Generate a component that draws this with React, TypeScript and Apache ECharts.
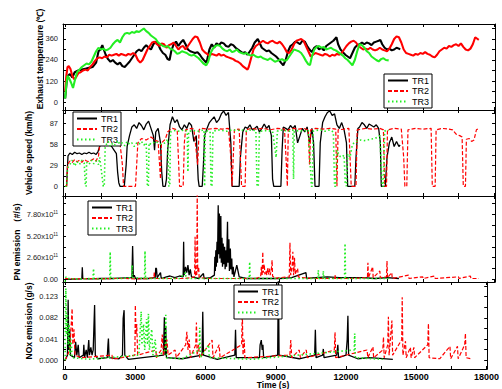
import React, { useEffect, useRef } from "react";
import * as echarts from "echarts";

// ---------- data ----------
const seriesNames = ["TR1", "TR2", "TR3"];
const xTickLabels = [0, 3000, 6000, 9000, 12000, 15000, 18000];
const tempTicks = [0, 120, 240, 360];
const speedTicks = [0, 29, 58, 87];
const pnTicks = [0, 2.6, 5.2, 7.8]; // x10^11 #/s
const noxTicks = [0, 0.041, 0.082, 0.123];

// Exhaust temperature (°C) [time s, value]
const tempTR1: [number, number][] = [[0,20],[60,110],[120,150],[200,160],[300,140],[400,170],[550,180],[700,185],[850,190],[1000,195],[1150,200],[1300,225],[1400,290],[1480,300],[1560,325],[1620,300],[1700,270],[1800,245],[1900,230],[2000,240],[2100,225],[2200,215],[2300,225],[2400,205],[2500,200],[2600,215],[2700,230],[2800,250],[2900,270],[3000,290],[3100,300],[3200,290],[3300,310],[3400,325],[3500,310],[3600,300],[3700,330],[3800,345],[3900,330],[4000,300],[4100,280],[4200,270],[4300,245],[4380,240],[4450,290],[4550,330],[4650,345],[4750,320],[4850,340],[4950,355],[5050,330],[5150,300],[5250,290],[5350,285],[5450,280],[5550,285],[5650,270],[5750,250],[5850,235],[5930,225],[6050,300],[6150,330],[6250,310],[6350,335],[6450,325],[6550,340],[6650,335],[6750,320],[6850,315],[6950,330],[7050,325],[7150,310],[7250,300],[7350,290],[7450,280],[7550,285],[7650,270],[7750,290],[7850,310],[7950,340],[8080,360],[8150,340],[8250,310],[8350,300],[8450,290],[8550,295],[8650,280],[8750,270],[8850,260],[8950,245],[9050,225],[9150,210],[9250,240],[9350,290],[9450,320],[9550,330],[9650,345],[9750,340],[9850,330],[9950,350],[10050,345],[10150,320],[10250,300],[10350,285],[10450,310],[10550,320],[10650,300],[10750,310],[10850,295],[10950,320],[11050,330],[11150,340],[11250,350],[11380,370],[11450,330],[11550,300],[11650,285],[11750,270],[11850,260],[11950,250],[12050,280],[12150,310],[12250,325],[12350,330],[12450,340],[12550,330],[12650,340],[12750,335],[12850,325],[12950,340],[13050,345],[13150,350],[13220,355],[13300,330],[13400,310],[13500,300],[13600,305],[13700,295],[13800,300],[13900,310],[14000,305],[14050,300]];
const tempTR2: [number, number][] = [[0,60],[50,150],[100,200],[150,205],[220,190],[300,150],[380,130],[450,140],[550,165],[650,170],[750,180],[850,185],[950,180],[1050,200],[1150,215],[1250,235],[1350,250],[1450,255],[1550,250],[1650,260],[1750,255],[1850,270],[1950,265],[2050,270],[2150,275],[2250,265],[2350,275],[2450,270],[2550,265],[2650,275],[2750,270],[2850,280],[2950,270],[3050,240],[3150,225],[3250,240],[3350,270],[3450,300],[3550,320],[3650,340],[3750,345],[3850,330],[3950,320],[4050,335],[4150,330],[4250,310],[4350,325],[4450,330],[4550,340],[4650,320],[4750,300],[4850,315],[4950,320],[5050,300],[5150,320],[5250,340],[5350,360],[5450,375],[5550,370],[5650,340],[5750,300],[5850,285],[5950,275],[6050,265],[6150,275],[6250,270],[6350,265],[6450,275],[6550,265],[6650,270],[6750,260],[6850,255],[6950,250],[7050,245],[7150,235],[7250,230],[7350,220],[7450,205],[7550,195],[7650,185],[7700,200],[7800,250],[7900,300],[8000,320],[8100,330],[8200,340],[8300,350],[8400,340],[8500,335],[8600,345],[8700,350],[8800,340],[8900,335],[9000,345],[9100,330],[9200,310],[9300,285],[9400,280],[9500,300],[9600,330],[9700,350],[9800,355],[9900,360],[10000,350],[10100,320],[10200,290],[10300,260],[10400,270],[10500,280],[10600,275],[10700,270],[10800,265],[10900,275],[11000,270],[11100,260],[11200,270],[11300,265],[11400,275],[11500,270],[11600,280],[11700,300],[11800,320],[11900,335],[12000,345],[12100,350],[12200,340],[12300,320],[12400,310],[12500,300],[12600,305],[12700,300],[12800,310],[12900,300],[13000,295],[13100,300],[13200,310],[13300,300],[13400,295],[13500,290],[13600,305],[13700,330],[13800,360],[13900,375],[14000,370],[14100,340],[14200,300],[14300,280],[14400,275],[14500,270],[14600,265],[14700,275],[14800,270],[14900,280],[15000,275],[15100,285],[15200,275],[15300,270],[15400,260],[15500,255],[15600,270],[15700,290],[15800,300],[15900,310],[16000,305],[16100,320],[16200,315],[16300,325],[16400,330],[16500,320],[16600,335],[16700,315],[16800,300],[16900,295],[17000,305],[17100,330],[17200,370],[17300,360],[17350,355]];
const tempTR3: [number, number][] = [[0,20],[50,100],[100,150],[150,140],[250,110],[330,80],[400,120],[500,170],[600,185],[700,200],[800,210],[900,220],[1000,215],[1100,230],[1200,260],[1300,290],[1400,310],[1500,300],[1600,305],[1700,295],[1800,300],[1900,310],[2000,330],[2100,345],[2200,355],[2300,340],[2400,370],[2500,390],[2600,395],[2700,390],[2800,400],[2900,395],[3000,405],[3100,400],[3200,410],[3300,420],[3400,405],[3500,395],[3600,380],[3700,370],[3800,360],[3900,340],[4000,330],[4100,320],[4200,315],[4300,320],[4400,305],[4500,300],[4600,290],[4700,275],[4800,280],[4900,290],[5000,285],[5100,280],[5200,270],[5300,265],[5400,270],[5500,260],[5600,250],[5700,235],[5800,220],[5920,210],[6000,230],[6100,280],[6200,305],[6300,320],[6400,325],[6500,320],[6600,305],[6700,295],[6800,290],[6900,300],[7000,285],[7100,290],[7200,300],[7300,285],[7400,280],[7500,275],[7600,280],[7700,270],[7800,265],[7900,270],[8000,260],[8100,255],[8200,260],[8300,250],[8400,245],[8500,240],[8600,250],[8700,240],[8800,230],[8900,235],[9000,240],[9100,245],[9200,235],[9300,240],[9400,260],[9500,280],[9600,300],[9700,295],[9800,290],[9900,280],[10000,260],[10100,235],[10200,215],[10270,211],[10350,260],[10450,300],[10550,315],[10650,320],[10750,310],[10850,315],[10950,300],[11050,305],[11150,310],[11250,300],[11350,295],[11450,285],[11550,275],[11650,265],[11750,250],[11850,240],[11950,225],[12050,210],[12150,240],[12250,290],[12350,330],[12450,325],[12550,310],[12650,290],[12750,280],[12850,260],[12950,250],[13050,240],[13150,232],[13250,245],[13350,250],[13450,240],[13570,238]];

// Vehicle speed (km/h)
const speedTR1: [number, number][] = [[0,0],[60,0],[120,42],[200,46],[300,44],[400,47],[500,45],[600,46],[700,44],[800,46],[900,45],[1000,47],[1100,45],[1200,46],[1300,44],[1380,48],[1450,55],[1550,60],[1650,56],[1750,60],[1850,58],[1950,55],[2050,50],[2150,45],[2200,20],[2250,5],[2300,0],[2400,0],[2480,0],[2520,15],[2560,30],[2600,55],[2700,70],[2800,82],[2900,85],[3000,80],[3100,88],[3200,84],[3300,78],[3400,86],[3500,90],[3600,80],[3700,70],[3750,50],[3800,75],[3900,80],[4000,60],[4050,20],[4100,0],[4200,0],[4250,10],[4300,50],[4400,85],[4500,96],[4600,88],[4700,92],[4800,82],[4900,78],[5000,85],[5100,80],[5200,88],[5300,84],[5400,62],[5500,70],[5580,10],[5620,0],[5750,0],[5800,30],[5850,70],[5950,80],[6050,88],[6150,92],[6250,96],[6350,88],[6450,92],[6550,100],[6650,104],[6750,98],[6850,102],[6950,60],[7000,0],[7300,0],[7350,40],[7450,75],[7550,82],[7650,80],[7750,85],[7850,78],[7950,80],[8050,83],[8150,75],[8250,80],[8350,86],[8450,80],[8550,84],[8650,70],[8700,10],[8750,0],[9050,0],[9100,50],[9150,82],[9250,80],[9350,78],[9450,84],[9550,80],[9650,84],[9750,60],[9850,70],[9950,80],[10050,75],[10150,82],[10250,60],[10350,80],[10420,60],[10480,0],[10650,0],[10700,60],[10800,88],[10900,96],[11000,102],[11100,104],[11200,98],[11300,100],[11400,85],[11500,80],[11600,88],[11700,78],[11800,60],[11850,0],[12150,0],[12200,40],[12280,80],[12350,82],[12450,88],[12550,85],[12650,80],[12750,86],[12850,84],[12950,82],[13050,85],[13150,80],[13220,60],[13260,0],[13430,0],[13500,40],[13600,60],[13700,68],[13800,55],[13900,62],[14000,55],[14050,57]];
const speedTR2: [number, number][] = [[0,0],[60,0],[100,30],[200,35],[300,33],[400,37],[500,34],[600,36],[700,33],[800,37],[900,35],[1000,34],[1100,36],[1200,38],[1300,35],[1400,42],[1450,58],[1600,62],[1700,64],[1800,60],[1900,66],[2000,61],[2100,64],[2200,62],[2300,60],[2400,30],[2450,0],[2950,0],[3000,30],[3050,60],[3200,66],[3400,64],[3600,68],[3800,63],[3900,62],[3960,30],[4000,10],[4040,60],[4200,65],[4300,75],[4400,78],[4500,80],[4600,79],[4700,78],[4750,40],[4800,0],[4950,0],[5000,60],[5050,78],[5300,80],[5400,79],[5560,30],[5620,78],[5700,80],[6000,79],[6300,80],[6600,79],[6850,80],[6950,40],[7000,0],[7100,78],[7300,79],[7350,40],[7400,0],[7550,0],[7600,78],[7800,80],[8000,79],[8300,80],[8600,78],[8900,80],[9200,79],[9280,30],[9320,0],[9360,78],[9600,80],[9800,79],[10000,80],[10200,78],[10250,30],[10300,78],[10500,80],[10800,79],[11100,80],[11350,79],[11400,0],[11450,78],[11700,79],[11900,80],[11950,40],[12000,0],[12200,0],[12250,78],[12600,80],[12900,79],[13200,80],[13350,78],[13400,0],[13480,0],[13520,78],[13800,80],[14100,79],[14200,40],[14250,0],[14330,0],[14380,78],[14700,80],[15000,79],[15350,80],[15400,0],[15520,0],[15560,78],[15800,80],[16100,79],[16250,78],[16400,72],[16550,70],[16650,68],[16700,0],[16790,0],[16830,65],[16950,66],[17050,62],[17150,64],[17250,78],[17350,80]];
const speedTR3: [number, number][] = [[0,0],[60,0],[100,25],[200,30],[300,36],[400,28],[500,34],[600,30],[700,36],[800,32],[850,0],[880,0],[900,33],[1000,30],[1100,36],[1200,31],[1300,35],[1400,30],[1450,40],[1600,0],[1640,0],[1680,55],[1800,62],[1900,55],[2000,60],[2100,57],[2200,63],[2300,58],[2400,60],[2500,56],[2600,62],[2700,58],[2800,60],[2900,55],[3000,60],[3100,58],[3200,62],[3300,57],[3400,60],[3450,0],[3490,0],[3520,60],[3600,58],[3800,62],[4000,58],[4200,60],[4300,65],[4350,0],[4390,0],[4420,75],[4600,77],[4800,76],[5000,78],[5120,76],[5150,20],[5180,76],[5400,77],[5600,76],[5820,78],[5850,0],[5880,77],[6080,76],[6120,0],[6160,0],[6200,76],[6400,78],[6600,77],[6800,76],[7000,78],[7200,77],[7400,78],[7600,76],[7800,78],[8000,77],[8050,0],[8100,0],[8150,76],[8400,77],[8700,76],[8850,40],[8900,76],[9000,78],[9200,77],[9400,76],[9550,78],[9580,10],[9610,76],[9800,77],[10000,76],[10200,78],[10330,0],[10370,0],[10400,76],[10500,77],[10700,78],[10900,76],[11100,78],[11250,75],[11300,0],[11350,0],[11400,50],[11500,42],[11600,40],[11700,43],[11750,5],[11800,0],[11850,45],[11950,40],[12050,58],[12200,62],[12400,64],[12600,63],[12800,65],[13000,66],[13200,70],[13300,0],[13350,0],[13400,76],[13500,78],[13570,77]];

// PN emission (x10^11 #/s)
const pnTR1: [number, number][] = [[0,0],[700,0.05],[720,1.45],[740,0.1],[1000,0.05],[1500,0.1],[2000,0.1],[2300,0.15],[2800,0.2],[2830,4.0],[2860,0.3],[2900,0.5],[2950,0.1],[3200,0.1],[3500,0.1],[3780,0.2],[3800,1.35],[3830,1.3],[3860,0.2],[4000,0.8],[4030,0.1],[4250,0.3],[4400,0.4],[4600,0.2],[4800,0.4],[4950,0.3],[4970,4.5],[4990,0.5],[5050,1.5],[5100,0.8],[5150,1.7],[5200,0.5],[5250,1.2],[5300,0.3],[5600,0.1],[5800,0.7],[5830,0.1],[6100,0.2],[6260,0.5],[6280,2.7],[6300,1.0],[6320,3.5],[6340,1.5],[6370,4.5],[6390,2.0],[6420,8.9],[6440,3.0],[6470,7.9],[6490,2.5],[6530,7.6],[6550,2.0],[6580,5.0],[6600,1.5],[6630,4.3],[6650,1.8],[6690,3.9],[6710,1.2],[6750,3.5],[6770,1.5],[6810,6.9],[6830,2.0],[6870,4.8],[6890,1.0],[6930,3.7],[6950,1.2],[6990,2.5],[7010,0.6],[7050,1.5],[7080,0.3],[7200,1.7],[7250,1.0],[7300,0.3],[7600,0.1],[8000,0.1],[9000,0.1],[9500,0.2],[10100,0.8],[10130,0.1],[10500,0.2],[11000,0.3],[11500,0.2],[12000,0.2],[12500,0.2],[13000,0.1],[13500,0.2],[14000,0.1]];
const pnTR2: [number, number][] = [[0,0.1],[500,0.05],[1000,0.1],[1500,0.05],[2000,0.1],[2500,0.1],[3000,0.05],[3500,0.1],[3720,0.2],[3740,0.9],[3760,0.1],[4000,0.1],[4500,0.1],[5000,0.1],[5300,0.2],[5430,0.3],[5450,5.1],[5470,0.4],[5520,0.5],[5540,10.5],[5560,1.0],[5600,1.5],[5620,0.2],[6000,0.1],[7000,0.1],[8000,0.1],[8200,0.3],[8230,1.5],[8260,0.5],[8290,3.3],[8310,0.8],[8350,1.8],[8380,0.6],[8420,1.0],[8460,0.5],[8500,1.4],[8530,0.6],[8570,1.3],[8600,0.5],[8650,1.2],[8680,2.3],[8700,0.4],[8800,0.1],[9000,0.2],[9400,0.3],[9430,4.4],[9460,0.5],[9520,1.5],[9550,3.3],[9580,0.5],[9620,2.6],[9650,0.6],[9700,1.0],[9750,1.3],[9780,0.3],[9900,0.2],[10500,0.1],[11300,0.1],[11320,0.5],[11340,0.1],[12000,0.1],[12680,0.2],[12700,2.0],[12720,0.2],[12900,1.5],[12920,0.2],[13200,1.0],[13220,0.2],[13480,0.3],[13500,2.2],[13520,0.2],[13700,0.8],[13720,0.1],[14400,0.5],[14420,0.1],[15000,0.3],[15020,0.1],[15500,0.4],[15520,0.1],[16500,0.3],[16520,0.1],[17000,0.4],[17020,0.1],[17350,0.1]];
const pnTR3: [number, number][] = [[0,-0.3],[30,0.3],[100,0.1],[500,0.05],[1170,0.1],[1190,1.3],[1210,0.1],[1500,0.05],[1870,0.1],[1890,3.3],[1910,0.1],[2300,0.1],[2790,0.2],[2810,1.7],[2830,0.2],[3330,0.1],[3350,3.4],[3370,0.1],[3800,0.1],[4800,0.1],[5050,0.8],[5070,0.1],[6000,0.1],[7720,0.1],[7740,2.1],[7760,0.1],[8500,0.1],[9000,0.1],[10600,0.1],[10620,1.1],[10640,0.1],[10810,0.1],[10830,1.0],[10850,0.1],[11200,0.1],[11720,0.1],[11740,4.3],[11760,0.1],[12000,0.1],[12500,0.1],[13000,0.1],[13570,0.1]];

// NOx emission (g/s)
const noxTR1: [number, number][] = [[0,0],[100,0.01],[130,0.117],[160,0.02],[200,0.06],[230,0.01],[400,0.005],[450,0.036],[500,0.01],[560,0.03],[600,0.005],[780,0.01],[800,0.03],[830,0.005],[900,0.02],[950,0.005],[1010,0.039],[1040,0.01],[1100,0.025],[1150,0.01],[1200,0.02],[1260,0.107],[1290,0.01],[1400,0.003],[1800,0.005],[1830,0.03],[1850,0.042],[1880,0.005],[2300,0.003],[2450,0.01],[2480,0.081],[2520,0.097],[2550,0.01],[2700,0.002],[4200,0.01],[4240,0.083],[4270,0.01],[4300,0.065],[4330,0.005],[5000,0.003],[5850,0.01],[5880,0.094],[5910,0.01],[6500,0.002],[7250,0.01],[7280,0.059],[7310,0.005],[8300,0.005],[8330,0.03],[8380,0.039],[8420,0.02],[8450,0.03],[8480,0.005],[9080,0.01],[9110,0.17],[9140,0.01],[10000,0.003],[10660,0.01],[10690,0.059],[10720,0.005],[11000,0.01],[11030,0.022],[11060,0.005],[11600,0.01],[11650,0.03],[11680,0.005],[12000,0.01],[12050,0.04],[12080,0.086],[12110,0.01],[12500,0.003],[13000,0.005],[14000,0.002]];
const noxTR2: [number, number][] = [[0,0],[200,0.02],[300,0.1],[330,0.03],[380,0.06],[420,0.01],[700,0.005],[2000,0.01],[2030,0.002],[2980,0.01],[3000,0.107],[3030,0.05],[3060,0.07],[3100,0.01],[3880,0.02],[3900,0.005],[4100,0.02],[4150,0.05],[4200,0.01],[4350,0.04],[4400,0.01],[4700,0.02],[4750,0.005],[5150,0.03],[5200,0.055],[5250,0.02],[5300,0.04],[5350,0.005],[5580,0.03],[5610,0.073],[5640,0.01],[5700,0.03],[5750,0.005],[6280,0.039],[6320,0.005],[6580,0.03],[6620,0.005],[7540,0.03],[7570,0.095],[7600,0.01],[7650,0.04],[7680,0.005],[9600,0.01],[9640,0.039],[9680,0.005],[10000,0.02],[10050,0.005],[10300,0.02],[10350,0.005],[11500,0.02],[11530,0.054],[11560,0.005],[12900,0.02],[12930,0.005],[13150,0.026],[13180,0.005],[13570,0.02],[13600,0.045],[13630,0.005],[13780,0.03],[13810,0.084],[13840,0.01],[13960,0.077],[13990,0.01],[14380,0.04],[14400,0.122],[14430,0.01],[14540,0.037],[14570,0.005],[14750,0.025],[14780,0.005],[14900,0.025],[14930,0.005],[15490,0.03],[15520,0.071],[15550,0.005],[16000,0.003],[16440,0.027],[16470,0.003],[16760,0.027],[16790,0.003],[17070,0.03],[17100,0.052],[17130,0.005],[17350,0.003]];
const noxTR3: [number, number][] = [[0,0],[30,0.139],[60,0.05],[100,0.09],[130,0.03],[170,0.07],[200,0.01],[250,0.04],[300,0.005],[1000,0.002],[3150,0.01],[3250,0.094],[3280,0.03],[3350,0.07],[3400,0.02],[3480,0.08],[3520,0.03],[3560,0.09],[3600,0.02],[3700,0.06],[3750,0.01],[3850,0.04],[3900,0.005],[4280,0.02],[4300,0.088],[4330,0.005],[5000,0.003],[5730,0.02],[5750,0.063],[5780,0.005],[6130,0.03],[6160,0.005],[8000,0.002],[12350,0.02],[12370,0.052],[12400,0.005],[13570,0.002]];

// ---------- styles ----------
const FONT = "'Liberation Sans', Arial, sans-serif";
const colors = ["#000000", "#ff0000", "#22ee22"];
const dash: any[] = ["solid", [4, 2], [1.5, 2.5]];
const widths = [1.3, 1.2, 1.6];

const X_MIN = -90;
const X_MAX = 18030;
const xTicks = [0, 1500, 3000, 4500, 6000, 7500, 9000, 10500, 12000, 13500, 15000, 16500, 18000];

const panels = [
  { top: 24, height: 86, min: -45.7, max: 445.7, labels: tempTicks, fmt: (v: number) => String(v), data: [tempTR1, tempTR2, tempTR3], solid: true, legend: { left: 384, top: 74 } },
  { top: 110, height: 86, min: -13.4, max: 105.4, labels: speedTicks, fmt: (v: number) => String(v), data: [speedTR1, speedTR2, speedTR3], solid: false, legend: { left: 73, top: 112 } },
  { top: 196, height: 86, min: -0.32, max: 10.0, labels: pnTicks, fmt: (v: number) => (v === 0 ? "{a|0.00}" : `{a|${v.toFixed(2)}x10}{s|11}`), data: [pnTR1, pnTR2, pnTR3], solid: false, legend: { left: 88, top: 201 } },
  { top: 282, height: 87, min: -0.0168, max: 0.1514, labels: noxTicks, fmt: (v: number) => v.toFixed(3), data: [noxTR1, noxTR2, noxTR3], solid: false, legend: { left: 234, top: 285 } },
];

function halfTicks(labels: number[]) {
  const step = labels[1] - labels[0];
  const out: number[] = [];
  for (let i = 0; i < 8; i++) out.push(+(i * step / 2).toFixed(6));
  return out;
}

export default function App() {
  const ref = useRef<HTMLDivElement>(null);
  useEffect(() => {
    if (!ref.current) return;
    const chart = echarts.init(ref.current, null, { renderer: "svg" });
    const grid: any[] = [];
    const xAxis: any[] = [];
    const yAxis: any[] = [];
    const legend: any[] = [];
    const speedSeries: any[] = [];
    const otherSeries: any[] = [];

    panels.forEach((p, i) => {
      grid.push({ left: 63, right: 7, top: p.top, height: p.height });
      const isLast = i === panels.length - 1;
      xAxis.push({
        type: "value", gridIndex: i, min: X_MIN, max: X_MAX, position: "bottom",
        axisLine: { show: true, onZero: false, lineStyle: { color: "#000", width: 1 } },
        axisTick: { show: true, inside: true, length: 3, customValues: xTicks, lineStyle: { color: "#000" } },
        axisLabel: { show: isLast, customValues: xTickLabels, formatter: (v: number) => String(v), margin: 3, fontSize: 9, lineHeight: 9, fontWeight: "bold", color: "#000", fontFamily: FONT },
        splitLine: { show: false },
      });
      xAxis.push({
        type: "value", gridIndex: i, min: X_MIN, max: X_MAX, position: "top",
        axisLine: { show: true, onZero: false, lineStyle: { color: "#000", width: 1 } },
        axisTick: { show: true, inside: true, length: 3, customValues: xTicks, lineStyle: { color: "#000" } },
        axisLabel: { show: false },
        splitLine: { show: false },
      });
      const tks = halfTicks(p.labels);
      yAxis.push({
        type: "value", gridIndex: i, min: p.min, max: p.max, position: "left",
        axisLine: { show: true, onZero: false, lineStyle: { color: "#000", width: 1 } },
        axisTick: { show: true, inside: true, length: 3, customValues: tks, lineStyle: { color: "#000" } },
        axisLabel: {
          customValues: p.labels, margin: 5, fontSize: 7.5, color: "#222", fontFamily: FONT,
          formatter: p.fmt,
          rich: {
            a: { fontSize: 7.5, color: "#222", fontFamily: FONT, lineHeight: 9 },
            s: { fontSize: 4.5, color: "#222", fontFamily: FONT, verticalAlign: "top", lineHeight: 5 },
          },
        },
        splitLine: { show: false },
      });
      yAxis.push({
        type: "value", gridIndex: i, min: p.min, max: p.max, position: "right",
        axisLine: { show: true, onZero: false, lineStyle: { color: "#000", width: 1 } },
        axisTick: { show: true, inside: true, length: 3, customValues: tks, lineStyle: { color: "#000" } },
        axisLabel: { show: false },
        splitLine: { show: false },
      });
      legend.push({
        orient: "vertical", left: p.legend.left, top: p.legend.top,
        data: seriesNames, itemWidth: 20, itemHeight: 9, itemGap: 1.5,
        padding: [2, 3, 2, 3], backgroundColor: "#fff", borderColor: "#000", borderWidth: 1,
        borderRadius: 0, selectedMode: false,
        itemStyle: { opacity: 0, borderWidth: 0 },
        textStyle: { fontSize: 9, color: "#000", fontFamily: FONT, padding: [0, 0, 0, -1] },
      });
      seriesNames.forEach((name, k) => {
        const s = {
          type: "line", name, xAxisIndex: 2 * i, yAxisIndex: 2 * i,
          data: p.data[k], symbol: "none", showSymbol: false,
          lineStyle: {
            color: colors[k],
            width: p.solid ? 2.1 : widths[k],
            type: p.solid ? "solid" : dash[k],
          },
          itemStyle: { color: colors[k] },
          emphasis: { disabled: true },
          clip: true,
          z: 2 + k,
        };
        if (i === 1) speedSeries.push(s); else otherSeries.push(s);
      });
    });

    const titleStyle = { fontSize: 8.5, fontWeight: "bold", fontFamily: FONT, fill: "#000" };
    const yTitle = (text: string, x: number, y: number) => ({
      type: "text", x, y, rotation: Math.PI / 2,
      style: { ...titleStyle, text, align: "center", verticalAlign: "middle", textAlign: "center", textVerticalAlign: "middle" },
    });

    chart.setOption({
      animation: false,
      backgroundColor: "#fff",
      textStyle: { fontFamily: FONT },
      grid, xAxis, yAxis, legend,
      series: [...speedSeries, ...otherSeries],
      graphic: [
        yTitle("Exhaust temperature (℃)", 40, 59),
        yTitle("Vehicle speed (km/h)", 29, 153),
        yTitle("PN emission （#/s)", 17, 242),
        yTitle("NOx emission (g/s)", 29, 321),
        {
          type: "text", x: 273, y: 381.5,
          style: { ...titleStyle, fontSize: 8.5, lineHeight: 7.5, text: "Time (s)", align: "center", verticalAlign: "top", textAlign: "center", textVerticalAlign: "top" },
        },
      ],
    });
    return () => chart.dispose();
  }, []);
  return <div ref={ref} style={{ position: "fixed", left: 0, top: 0, width: 502, height: 389 }} />;
}
